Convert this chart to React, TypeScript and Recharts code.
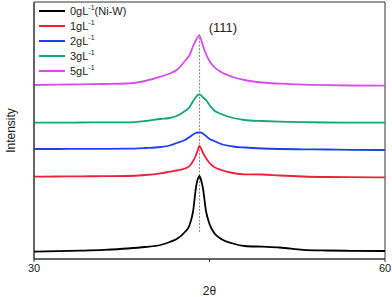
import { LineChart, Line, XAxis, YAxis, Legend, ReferenceLine, ReferenceDot, ReferenceArea } from 'recharts';

// 2θ sample positions (denser around the (111) peak)
const twoTheta = [30, 32, 34, 36, 38, 39.5, 40.8, 41.6, 42.2, 42.9, 43.3, 43.6, 43.85, 44.0, 44.13, 44.3, 44.45, 44.7, 45.0, 45.4, 46.0, 47.0, 48.0, 49.5, 51, 53, 55, 57, 60];

// intensities (offset stacked, arbitrary units)
const s0 = [7.3, 7.8, 8.4, 9.2, 10.5, 12, 14, 17, 20, 27, 34, 48, 72, 80, 83, 78, 70, 48, 35, 26, 20, 15.5, 13, 12.3, 11.5, 9.2, 8.5, 8.2, 8];
const s1 = [82.3, 82.5, 82.7, 82.8, 83, 84, 85.7, 87.3, 88.5, 90.5, 93, 98, 104, 109, 113, 110, 106, 101, 96, 92, 89, 86, 84.7, 84.5, 83.5, 82.5, 82, 81.8, 81.7];
const s2 = [110, 110, 110.2, 110.2, 110.3, 111, 112, 113.5, 116, 119, 122, 124.5, 126, 126.5, 126.7, 126.3, 125.3, 123, 120, 118, 115, 112.5, 111.5, 110.5, 110, 109.7, 109.5, 109.2, 109];
const s3 = [136.3, 136.4, 136.5, 136.6, 136.7, 138, 140, 141, 143, 148, 152, 158, 162, 164, 164.7, 163.5, 161.5, 159, 154, 148.5, 145, 141, 139, 138, 137.3, 136.8, 136.5, 136.4, 136.3];
const s5 = [174, 174.3, 174.7, 175, 175.5, 178, 182.3, 185.5, 189, 198, 204, 213, 219, 222, 223.3, 219, 213, 205, 198, 192, 187, 182, 179, 176.5, 175.3, 174.3, 173.8, 173.5, 173.3];

const seriesNames = ['0gL', '1gL', '2gL', '3gL', '5gL'];
const seriesSuffix = ['(Ni-W)', '', '', '', ''];
const seriesColors = ['#000000', '#F0203C', '#2040F0', '#10A878', '#D94CF0'];
const seriesValues = [s0, s1, s2, s3, s5];
const xTicks = [30, 45, 60];

const peakPos = 44.15;

const data = twoTheta.map((t, i) => {
  const row: Record<string, number> = { t };
  seriesNames.forEach((n, k) => { row[n] = seriesValues[k][i]; });
  return row;
});

const font = '"Liberation Sans", Arial, sans-serif';

function LegendBox() {
  return (
    <svg width={100} height={80} style={{ display: 'block' }}>
      {seriesNames.map((n, i) => {
        const y = 8 + i * 15;
        return (
          <g key={n}>
            <line x1={0} x2={26} y1={y} y2={y} stroke={seriesColors[i]} strokeWidth={2} />
            <text x={31} y={y + 4} fontSize={11} fontFamily={font} fill="#222">
              {n}
              <tspan fontSize={7} dy={-5}>-1</tspan>
              <tspan dy={5}>{seriesSuffix[i]}</tspan>
            </text>
          </g>
        );
      })}
    </svg>
  );
}

export default function App() {
  return (
    <div style={{ position: 'absolute', left: 0, top: 0, width: 392, height: 297, background: '#fff' }}>
      <LineChart width={392} height={297} data={data} margin={{ top: 2, right: 7, left: 0, bottom: 0 }}>
        <XAxis
          dataKey="t"
          type="number"
          domain={[30, 60]}
          ticks={xTicks}
          tickSize={3}
          tickFormatter={(v: number) => (v === 45 ? '' : String(v))}
          height={38}
          stroke="#333"
          tick={{ fill: '#222', fontSize: 11, fontFamily: font }}
          label={{ value: '2θ', position: 'insideBottom', offset: 2, fill: '#222', fontSize: 12, fontFamily: font }}
        />
        <YAxis
          type="number"
          domain={[0, 257]}
          tick={false}
          tickLine={false}
          width={34}
          stroke="#333"
          label={{ value: 'Intensity', angle: -90, position: 'center', dx: -6, fill: '#222', fontSize: 12, fontFamily: font }}
        />
        <ReferenceArea x1={30} x2={60} y1={0} y2={257} fill="none" stroke="#333" strokeWidth={1} />
        <ReferenceLine
          segment={[{ x: peakPos, y: 27 }, { x: peakPos, y: 226 }]}
          stroke="#888"
          strokeDasharray="2 1.5"
          strokeWidth={1}
        />
        <ReferenceDot
          x={46.15}
          y={231.7}
          r={1}
          fill="none"
          stroke="none"
          label={{ value: '(111)', position: 'center', fill: '#222', fontSize: 13, fontFamily: font }}
        />
        {seriesNames.map((n, i) => (
          <Line
            key={n}
            dataKey={n}
            type="monotone"
            stroke={seriesColors[i]}
            strokeWidth={1.8}
            dot={false}
            isAnimationActive={false}
          />
        ))}
        <Legend
          layout="vertical"
          align="center"
          verticalAlign="middle"
          wrapperStyle={{ left: 39, top: 3, width: 100 }}
          content={() => <LegendBox />}
        />
      </LineChart>
    </div>
  );
}
